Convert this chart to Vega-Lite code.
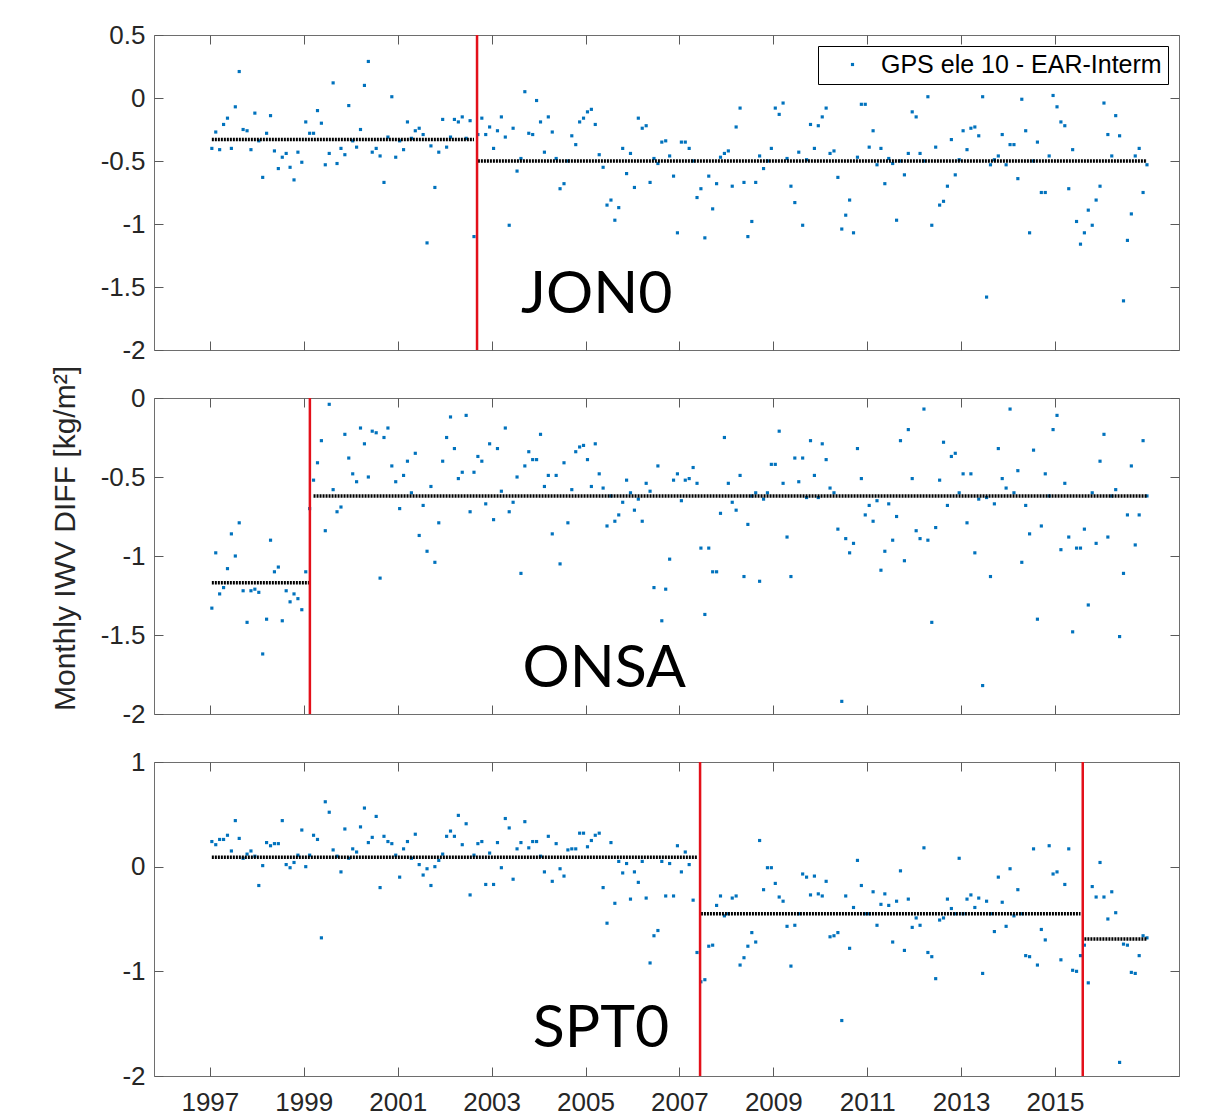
{
"$schema":"https://vega.github.io/schema/vega-lite/v6.json",
"background":"white",
"padding":{"left":49,"top":21,"right":10,"bottom":4},
"datasets":{
"jon0":[
{"t":1997.042,"v":-0.40},{"t":1997.125,"v":-0.27},{"t":1997.208,"v":-0.41},{"t":1997.292,"v":-0.21},{"t":1997.375,"v":-0.16},{"t":1997.458,"v":-0.40},{"t":1997.542,"v":-0.07},{"t":1997.625,"v":0.21},{"t":1997.708,"v":-0.25},{"t":1997.792,"v":-0.26},{"t":1997.875,"v":-0.41},{"t":1997.958,"v":-0.12},
{"t":1998.042,"v":-0.34},{"t":1998.125,"v":-0.63},{"t":1998.208,"v":-0.28},{"t":1998.292,"v":-0.14},{"t":1998.375,"v":-0.42},{"t":1998.458,"v":-0.56},{"t":1998.542,"v":-0.47},{"t":1998.625,"v":-0.44},{"t":1998.708,"v":-0.55},{"t":1998.792,"v":-0.65},{"t":1998.875,"v":-0.43},{"t":1998.958,"v":-0.51},
{"t":1999.042,"v":-0.19},{"t":1999.125,"v":-0.28},{"t":1999.208,"v":-0.28},{"t":1999.292,"v":-0.10},{"t":1999.375,"v":-0.20},{"t":1999.458,"v":-0.53},{"t":1999.542,"v":-0.44},{"t":1999.625,"v":0.12},{"t":1999.708,"v":-0.52},{"t":1999.792,"v":-0.40},{"t":1999.875,"v":-0.45},{"t":1999.958,"v":-0.06},
{"t":2000.042,"v":-0.34},{"t":2000.125,"v":-0.39},{"t":2000.208,"v":-0.25},{"t":2000.292,"v":0.10},{"t":2000.375,"v":0.29},{"t":2000.458,"v":-0.43},{"t":2000.542,"v":-0.40},{"t":2000.625,"v":-0.46},{"t":2000.708,"v":-0.67},{"t":2000.792,"v":-0.31},{"t":2000.875,"v":0.01},{"t":2000.958,"v":-0.47},
{"t":2001.042,"v":-0.34},{"t":2001.125,"v":-0.41},{"t":2001.208,"v":-0.19},{"t":2001.292,"v":-0.32},{"t":2001.375,"v":-0.26},{"t":2001.458,"v":-0.24},{"t":2001.542,"v":-0.29},{"t":2001.625,"v":-1.15},{"t":2001.708,"v":-0.38},{"t":2001.792,"v":-0.71},{"t":2001.875,"v":-0.43},{"t":2001.958,"v":-0.17},
{"t":2002.042,"v":-0.39},{"t":2002.125,"v":-0.31},{"t":2002.208,"v":-0.17},{"t":2002.292,"v":-0.19},{"t":2002.375,"v":-0.15},{"t":2002.458,"v":-0.32},{"t":2002.542,"v":-0.18},{"t":2002.625,"v":-1.10},{"t":2002.708,"v":-0.29},{"t":2002.792,"v":-0.16},{"t":2002.875,"v":-0.29},{"t":2002.958,"v":-0.23},
{"t":2003.042,"v":-0.40},{"t":2003.125,"v":-0.26},{"t":2003.208,"v":-0.15},{"t":2003.292,"v":-0.31},{"t":2003.375,"v":-1.01},{"t":2003.458,"v":-0.24},{"t":2003.542,"v":-0.58},{"t":2003.625,"v":-0.48},{"t":2003.708,"v":0.05},{"t":2003.792,"v":-0.28},{"t":2003.875,"v":-0.29},{"t":2003.958,"v":-0.02},
{"t":2004.042,"v":-0.19},{"t":2004.125,"v":-0.43},{"t":2004.208,"v":-0.15},{"t":2004.292,"v":-0.27},{"t":2004.375,"v":-0.48},{"t":2004.458,"v":-0.72},{"t":2004.542,"v":-0.68},{"t":2004.625,"v":-0.50},{"t":2004.708,"v":-0.30},{"t":2004.792,"v":-0.37},{"t":2004.875,"v":-0.19},{"t":2004.958,"v":-0.16},
{"t":2005.042,"v":-0.11},{"t":2005.125,"v":-0.09},{"t":2005.208,"v":-0.21},{"t":2005.292,"v":-0.45},{"t":2005.375,"v":-0.55},{"t":2005.458,"v":-0.85},{"t":2005.542,"v":-0.81},{"t":2005.625,"v":-0.97},{"t":2005.708,"v":-0.87},{"t":2005.792,"v":-0.40},{"t":2005.875,"v":-0.60},{"t":2005.958,"v":-0.44},
{"t":2006.042,"v":-0.71},{"t":2006.125,"v":-0.16},{"t":2006.208,"v":-0.24},{"t":2006.292,"v":-0.22},{"t":2006.375,"v":-0.67},{"t":2006.458,"v":-0.48},{"t":2006.542,"v":-0.52},{"t":2006.625,"v":-0.35},{"t":2006.708,"v":-0.34},{"t":2006.792,"v":-0.46},{"t":2006.875,"v":-0.62},{"t":2006.958,"v":-1.07},
{"t":2007.042,"v":-0.35},{"t":2007.125,"v":-0.35},{"t":2007.208,"v":-0.40},{"t":2007.292,"v":-0.50},{"t":2007.375,"v":-0.79},{"t":2007.458,"v":-0.72},{"t":2007.542,"v":-1.11},{"t":2007.625,"v":-0.62},{"t":2007.708,"v":-0.88},{"t":2007.792,"v":-0.68},{"t":2007.875,"v":-0.47},{"t":2007.958,"v":-0.44},
{"t":2008.042,"v":-0.42},{"t":2008.125,"v":-0.70},{"t":2008.208,"v":-0.23},{"t":2008.292,"v":-0.08},{"t":2008.375,"v":-0.67},{"t":2008.458,"v":-1.10},{"t":2008.542,"v":-0.98},{"t":2008.625,"v":-0.67},{"t":2008.708,"v":-0.46},{"t":2008.792,"v":-0.56},{"t":2008.875,"v":-0.50},{"t":2008.958,"v":-0.40},
{"t":2009.042,"v":-0.08},{"t":2009.125,"v":-0.13},{"t":2009.208,"v":-0.04},{"t":2009.292,"v":-0.48},{"t":2009.375,"v":-0.70},{"t":2009.458,"v":-0.83},{"t":2009.542,"v":-0.43},{"t":2009.625,"v":-1.01},{"t":2009.708,"v":-0.49},{"t":2009.792,"v":-0.21},{"t":2009.875,"v":-0.40},{"t":2009.958,"v":-0.22},
{"t":2010.042,"v":-0.15},{"t":2010.125,"v":-0.08},{"t":2010.208,"v":-0.44},{"t":2010.292,"v":-0.42},{"t":2010.375,"v":-0.63},{"t":2010.458,"v":-1.04},{"t":2010.542,"v":-0.93},{"t":2010.625,"v":-0.81},{"t":2010.708,"v":-1.07},{"t":2010.792,"v":-0.47},{"t":2010.875,"v":-0.05},{"t":2010.958,"v":-0.05},
{"t":2011.042,"v":-0.39},{"t":2011.125,"v":-0.26},{"t":2011.208,"v":-0.53},{"t":2011.292,"v":-0.40},{"t":2011.375,"v":-0.68},{"t":2011.458,"v":-0.48},{"t":2011.542,"v":-0.52},{"t":2011.625,"v":-0.97},{"t":2011.708,"v":-0.50},{"t":2011.792,"v":-0.61},{"t":2011.875,"v":-0.44},{"t":2011.958,"v":-0.11},
{"t":2012.042,"v":-0.15},{"t":2012.125,"v":-0.44},{"t":2012.208,"v":-0.50},{"t":2012.292,"v":0.01},{"t":2012.375,"v":-1.01},{"t":2012.458,"v":-0.39},{"t":2012.542,"v":-0.85},{"t":2012.625,"v":-0.82},{"t":2012.708,"v":-0.70},{"t":2012.792,"v":-0.33},{"t":2012.875,"v":-0.61},{"t":2012.958,"v":-0.49},
{"t":2013.042,"v":-0.26},{"t":2013.125,"v":-0.41},{"t":2013.208,"v":-0.24},{"t":2013.292,"v":-0.23},{"t":2013.375,"v":-0.30},{"t":2013.458,"v":0.01},{"t":2013.542,"v":-1.58},{"t":2013.625,"v":-0.53},{"t":2013.708,"v":-0.49},{"t":2013.792,"v":-0.46},{"t":2013.875,"v":-0.29},{"t":2013.958,"v":-0.53},
{"t":2014.042,"v":-0.37},{"t":2014.125,"v":-0.37},{"t":2014.208,"v":-0.64},{"t":2014.292,"v":-0.01},{"t":2014.375,"v":-0.26},{"t":2014.458,"v":-1.07},{"t":2014.542,"v":-0.50},{"t":2014.625,"v":-0.35},{"t":2014.708,"v":-0.75},{"t":2014.792,"v":-0.75},{"t":2014.875,"v":-0.46},{"t":2014.958,"v":0.02},
{"t":2015.042,"v":-0.07},{"t":2015.125,"v":-0.19},{"t":2015.208,"v":-0.22},{"t":2015.292,"v":-0.72},{"t":2015.375,"v":-0.41},{"t":2015.458,"v":-0.98},{"t":2015.542,"v":-1.16},{"t":2015.625,"v":-1.07},{"t":2015.708,"v":-0.89},{"t":2015.792,"v":-1.01},{"t":2015.875,"v":-0.81},{"t":2015.958,"v":-0.70},
{"t":2016.042,"v":-0.04},{"t":2016.125,"v":-0.29},{"t":2016.208,"v":-0.46},{"t":2016.292,"v":-0.14},{"t":2016.375,"v":-0.30},{"t":2016.458,"v":-1.61},{"t":2016.542,"v":-1.13},{"t":2016.625,"v":-0.92},{"t":2016.708,"v":-0.46},{"t":2016.792,"v":-0.40},{"t":2016.875,"v":-0.75},{"t":2016.958,"v":-0.53}
],
"onsa":[
{"t":1997.042,"v":-1.33},{"t":1997.125,"v":-0.98},{"t":1997.208,"v":-1.24},{"t":1997.292,"v":-1.20},{"t":1997.375,"v":-1.08},{"t":1997.458,"v":-0.86},{"t":1997.542,"v":-1.00},{"t":1997.625,"v":-0.79},{"t":1997.708,"v":-1.22},{"t":1997.792,"v":-1.42},{"t":1997.875,"v":-1.22},{"t":1997.958,"v":-1.21},
{"t":1998.042,"v":-1.23},{"t":1998.125,"v":-1.62},{"t":1998.208,"v":-1.40},{"t":1998.292,"v":-0.90},{"t":1998.375,"v":-1.10},{"t":1998.458,"v":-1.07},{"t":1998.542,"v":-1.41},{"t":1998.625,"v":-1.22},{"t":1998.708,"v":-1.29},{"t":1998.792,"v":-1.24},{"t":1998.875,"v":-1.27},{"t":1998.958,"v":-1.34},
{"t":1999.042,"v":-1.10},{"t":1999.125,"v":-0.70},{"t":1999.208,"v":-0.52},{"t":1999.292,"v":-0.41},{"t":1999.375,"v":-0.27},{"t":1999.458,"v":-0.84},{"t":1999.542,"v":-0.04},{"t":1999.625,"v":-0.58},{"t":1999.708,"v":-0.72},{"t":1999.792,"v":-0.69},{"t":1999.875,"v":-0.23},{"t":1999.958,"v":-0.38},
{"t":2000.042,"v":-0.48},{"t":2000.125,"v":-0.53},{"t":2000.208,"v":-0.19},{"t":2000.292,"v":-0.29},{"t":2000.375,"v":-0.50},{"t":2000.458,"v":-0.21},{"t":2000.542,"v":-0.22},{"t":2000.625,"v":-1.14},{"t":2000.708,"v":-0.25},{"t":2000.792,"v":-0.19},{"t":2000.875,"v":-0.43},{"t":2000.958,"v":-0.53},
{"t":2001.042,"v":-0.70},{"t":2001.125,"v":-0.49},{"t":2001.208,"v":-0.40},{"t":2001.292,"v":-0.60},{"t":2001.375,"v":-0.35},{"t":2001.458,"v":-0.87},{"t":2001.542,"v":-0.68},{"t":2001.625,"v":-0.97},{"t":2001.708,"v":-0.56},{"t":2001.792,"v":-1.04},{"t":2001.875,"v":-0.79},{"t":2001.958,"v":-0.40},
{"t":2002.042,"v":-0.25},{"t":2002.125,"v":-0.12},{"t":2002.208,"v":-0.32},{"t":2002.292,"v":-0.51},{"t":2002.375,"v":-0.47},{"t":2002.458,"v":-0.11},{"t":2002.542,"v":-0.72},{"t":2002.625,"v":-0.47},{"t":2002.708,"v":-0.37},{"t":2002.792,"v":-0.40},{"t":2002.875,"v":-0.67},{"t":2002.958,"v":-0.29},
{"t":2003.042,"v":-0.77},{"t":2003.125,"v":-0.32},{"t":2003.208,"v":-0.59},{"t":2003.292,"v":-0.19},{"t":2003.375,"v":-0.72},{"t":2003.458,"v":-0.66},{"t":2003.542,"v":-0.50},{"t":2003.625,"v":-1.11},{"t":2003.708,"v":-0.43},{"t":2003.792,"v":-0.34},{"t":2003.875,"v":-0.39},{"t":2003.958,"v":-0.39},
{"t":2004.042,"v":-0.23},{"t":2004.125,"v":-0.56},{"t":2004.208,"v":-0.49},{"t":2004.292,"v":-0.86},{"t":2004.375,"v":-0.49},{"t":2004.458,"v":-1.05},{"t":2004.542,"v":-0.41},{"t":2004.625,"v":-0.79},{"t":2004.708,"v":-0.58},{"t":2004.792,"v":-0.34},{"t":2004.875,"v":-0.31},{"t":2004.958,"v":-0.30},
{"t":2005.042,"v":-0.39},{"t":2005.125,"v":-0.56},{"t":2005.208,"v":-0.29},{"t":2005.292,"v":-0.48},{"t":2005.375,"v":-0.57},{"t":2005.458,"v":-0.81},{"t":2005.542,"v":-0.62},{"t":2005.625,"v":-0.78},{"t":2005.708,"v":-0.74},{"t":2005.792,"v":-0.66},{"t":2005.875,"v":-0.52},{"t":2005.958,"v":-0.60},
{"t":2006.042,"v":-0.71},{"t":2006.125,"v":-0.64},{"t":2006.208,"v":-0.78},{"t":2006.292,"v":-0.54},{"t":2006.375,"v":-0.59},{"t":2006.458,"v":-1.20},{"t":2006.542,"v":-0.43},{"t":2006.625,"v":-1.41},{"t":2006.708,"v":-1.21},{"t":2006.792,"v":-1.02},{"t":2006.875,"v":-0.52},{"t":2006.958,"v":-0.48},
{"t":2007.042,"v":-0.65},{"t":2007.125,"v":-0.52},{"t":2007.208,"v":-0.51},{"t":2007.292,"v":-0.44},{"t":2007.375,"v":-0.54},{"t":2007.458,"v":-0.95},{"t":2007.542,"v":-1.37},{"t":2007.625,"v":-0.95},{"t":2007.708,"v":-1.10},{"t":2007.792,"v":-1.10},{"t":2007.875,"v":-0.73},{"t":2007.958,"v":-0.25},
{"t":2008.042,"v":-0.54},{"t":2008.125,"v":-0.66},{"t":2008.208,"v":-0.71},{"t":2008.292,"v":-0.49},{"t":2008.375,"v":-1.13},{"t":2008.458,"v":-0.80},{"t":2008.542,"v":-0.62},{"t":2008.625,"v":-0.60},{"t":2008.708,"v":-1.16},{"t":2008.792,"v":-0.64},{"t":2008.875,"v":-0.60},{"t":2008.958,"v":-0.42},
{"t":2009.042,"v":-0.42},{"t":2009.125,"v":-0.21},{"t":2009.208,"v":-0.54},{"t":2009.292,"v":-0.88},{"t":2009.375,"v":-1.13},{"t":2009.458,"v":-0.38},{"t":2009.542,"v":-0.53},{"t":2009.625,"v":-0.38},{"t":2009.708,"v":-0.63},{"t":2009.792,"v":-0.27},{"t":2009.875,"v":-0.49},{"t":2009.958,"v":-0.63},
{"t":2010.042,"v":-0.29},{"t":2010.125,"v":-0.39},{"t":2010.208,"v":-0.57},{"t":2010.292,"v":-0.60},{"t":2010.375,"v":-0.83},{"t":2010.458,"v":-1.92},{"t":2010.542,"v":-0.89},{"t":2010.625,"v":-0.98},{"t":2010.708,"v":-0.92},{"t":2010.792,"v":-0.32},{"t":2010.875,"v":-0.51},{"t":2010.958,"v":-0.74},
{"t":2011.042,"v":-0.68},{"t":2011.125,"v":-0.78},{"t":2011.208,"v":-0.65},{"t":2011.292,"v":-1.09},{"t":2011.375,"v":-0.97},{"t":2011.458,"v":-0.67},{"t":2011.542,"v":-0.90},{"t":2011.625,"v":-0.75},{"t":2011.708,"v":-0.27},{"t":2011.792,"v":-1.03},{"t":2011.875,"v":-0.20},{"t":2011.958,"v":-0.51},
{"t":2012.042,"v":-0.84},{"t":2012.125,"v":-0.89},{"t":2012.208,"v":-0.07},{"t":2012.292,"v":-0.90},{"t":2012.375,"v":-1.42},{"t":2012.458,"v":-0.82},{"t":2012.542,"v":-0.52},{"t":2012.625,"v":-0.28},{"t":2012.708,"v":-0.68},{"t":2012.792,"v":-0.37},{"t":2012.875,"v":-0.35},{"t":2012.958,"v":-0.60},
{"t":2013.042,"v":-0.48},{"t":2013.125,"v":-0.79},{"t":2013.208,"v":-0.48},{"t":2013.292,"v":-0.98},{"t":2013.375,"v":-0.64},{"t":2013.458,"v":-1.82},{"t":2013.542,"v":-0.63},{"t":2013.625,"v":-1.13},{"t":2013.708,"v":-0.67},{"t":2013.792,"v":-0.32},{"t":2013.875,"v":-0.51},{"t":2013.958,"v":-0.57},
{"t":2014.042,"v":-0.07},{"t":2014.125,"v":-0.60},{"t":2014.208,"v":-0.46},{"t":2014.292,"v":-1.04},{"t":2014.375,"v":-0.68},{"t":2014.458,"v":-0.86},{"t":2014.542,"v":-0.33},{"t":2014.625,"v":-1.40},{"t":2014.708,"v":-0.81},{"t":2014.792,"v":-0.48},{"t":2014.875,"v":-0.62},{"t":2014.958,"v":-0.20},
{"t":2015.042,"v":-0.11},{"t":2015.125,"v":-0.96},{"t":2015.208,"v":-0.54},{"t":2015.292,"v":-0.88},{"t":2015.375,"v":-1.48},{"t":2015.458,"v":-0.95},{"t":2015.542,"v":-0.95},{"t":2015.625,"v":-0.83},{"t":2015.708,"v":-1.31},{"t":2015.792,"v":-0.60},{"t":2015.875,"v":-0.92},{"t":2015.958,"v":-0.40},
{"t":2016.042,"v":-0.23},{"t":2016.125,"v":-0.88},{"t":2016.208,"v":-0.62},{"t":2016.292,"v":-0.58},{"t":2016.375,"v":-1.51},{"t":2016.458,"v":-1.11},{"t":2016.542,"v":-0.74},{"t":2016.625,"v":-0.43},{"t":2016.708,"v":-0.93},{"t":2016.792,"v":-0.74},{"t":2016.875,"v":-0.27},{"t":2016.958,"v":-0.62}
],
"spt0":[
{"t":1997.042,"v":0.24},{"t":1997.125,"v":0.21},{"t":1997.208,"v":0.26},{"t":1997.292,"v":0.26},{"t":1997.375,"v":0.30},{"t":1997.458,"v":0.15},{"t":1997.542,"v":0.44},{"t":1997.625,"v":0.27},{"t":1997.708,"v":0.08},{"t":1997.792,"v":0.12},{"t":1997.875,"v":0.15},{"t":1997.958,"v":0.10},
{"t":1998.042,"v":-0.18},{"t":1998.125,"v":0.01},{"t":1998.208,"v":0.23},{"t":1998.292,"v":0.20},{"t":1998.375,"v":0.22},{"t":1998.458,"v":0.22},{"t":1998.542,"v":0.44},{"t":1998.625,"v":0.02},{"t":1998.708,"v":-0.01},{"t":1998.792,"v":0.04},{"t":1998.875,"v":0.11},{"t":1998.958,"v":0.35},
{"t":1999.042,"v":0.00},{"t":1999.125,"v":0.11},{"t":1999.208,"v":0.30},{"t":1999.292,"v":0.26},{"t":1999.375,"v":-0.68},{"t":1999.458,"v":0.62},{"t":1999.542,"v":0.52},{"t":1999.625,"v":0.16},{"t":1999.708,"v":0.10},{"t":1999.792,"v":-0.05},{"t":1999.875,"v":0.36},{"t":1999.958,"v":0.08},
{"t":2000.042,"v":0.17},{"t":2000.125,"v":0.14},{"t":2000.208,"v":0.38},{"t":2000.292,"v":0.56},{"t":2000.375,"v":0.23},{"t":2000.458,"v":0.28},{"t":2000.542,"v":0.48},{"t":2000.625,"v":-0.20},{"t":2000.708,"v":0.29},{"t":2000.792,"v":0.24},{"t":2000.875,"v":0.22},{"t":2000.958,"v":0.11},
{"t":2001.042,"v":-0.10},{"t":2001.125,"v":0.17},{"t":2001.208,"v":0.24},{"t":2001.292,"v":0.08},{"t":2001.375,"v":0.31},{"t":2001.458,"v":0.02},{"t":2001.542,"v":-0.08},{"t":2001.625,"v":-0.02},{"t":2001.708,"v":-0.18},{"t":2001.792,"v":0.00},{"t":2001.875,"v":0.06},{"t":2001.958,"v":0.12},
{"t":2002.042,"v":0.29},{"t":2002.125,"v":0.34},{"t":2002.208,"v":0.29},{"t":2002.292,"v":0.49},{"t":2002.375,"v":0.21},{"t":2002.458,"v":0.41},{"t":2002.542,"v":-0.27},{"t":2002.625,"v":0.11},{"t":2002.708,"v":0.22},{"t":2002.792,"v":0.24},{"t":2002.875,"v":-0.17},{"t":2002.958,"v":0.13},
{"t":2003.042,"v":-0.17},{"t":2003.125,"v":0.23},{"t":2003.208,"v":-0.01},{"t":2003.292,"v":0.46},{"t":2003.375,"v":0.37},{"t":2003.458,"v":-0.12},{"t":2003.542,"v":0.17},{"t":2003.625,"v":0.23},{"t":2003.708,"v":0.43},{"t":2003.792,"v":0.18},{"t":2003.875,"v":0.24},{"t":2003.958,"v":0.24},
{"t":2004.042,"v":0.10},{"t":2004.125,"v":-0.05},{"t":2004.208,"v":0.29},{"t":2004.292,"v":-0.14},{"t":2004.375,"v":0.22},{"t":2004.458,"v":-0.02},{"t":2004.542,"v":-0.09},{"t":2004.625,"v":0.16},{"t":2004.708,"v":0.17},{"t":2004.792,"v":0.17},{"t":2004.875,"v":0.32},{"t":2004.958,"v":0.32},
{"t":2005.042,"v":0.19},{"t":2005.125,"v":0.25},{"t":2005.208,"v":0.30},{"t":2005.292,"v":0.32},{"t":2005.375,"v":-0.20},{"t":2005.458,"v":-0.54},{"t":2005.542,"v":0.23},{"t":2005.625,"v":-0.35},{"t":2005.708,"v":0.05},{"t":2005.792,"v":-0.06},{"t":2005.875,"v":0.03},{"t":2005.958,"v":-0.31},
{"t":2006.042,"v":-0.05},{"t":2006.125,"v":-0.15},{"t":2006.208,"v":0.05},{"t":2006.292,"v":-0.30},{"t":2006.375,"v":-0.92},{"t":2006.458,"v":-0.66},{"t":2006.542,"v":-0.61},{"t":2006.625,"v":0.05},{"t":2006.708,"v":-0.28},{"t":2006.792,"v":0.03},{"t":2006.875,"v":-0.28},{"t":2006.958,"v":0.20},
{"t":2007.042,"v":-0.05},{"t":2007.125,"v":0.14},{"t":2007.208,"v":0.02},{"t":2007.292,"v":-0.32},{"t":2007.375,"v":-0.82},{"t":2007.458,"v":-1.10},{"t":2007.542,"v":-1.08},{"t":2007.625,"v":-0.76},{"t":2007.708,"v":-0.75},{"t":2007.792,"v":-0.37},{"t":2007.875,"v":-0.28},{"t":2007.958,"v":-0.47},
{"t":2008.042,"v":-0.45},{"t":2008.125,"v":-0.30},{"t":2008.208,"v":-0.28},{"t":2008.292,"v":-0.94},{"t":2008.375,"v":-0.87},{"t":2008.458,"v":-0.76},{"t":2008.542,"v":-0.63},{"t":2008.625,"v":-0.72},{"t":2008.708,"v":0.25},{"t":2008.792,"v":-0.22},{"t":2008.875,"v":-0.01},{"t":2008.958,"v":-0.01},
{"t":2009.042,"v":-0.16},{"t":2009.125,"v":-0.29},{"t":2009.208,"v":-0.33},{"t":2009.292,"v":-0.57},{"t":2009.375,"v":-0.95},{"t":2009.458,"v":-0.56},{"t":2009.542,"v":-0.45},{"t":2009.625,"v":-0.07},{"t":2009.708,"v":-0.10},{"t":2009.792,"v":-0.27},{"t":2009.875,"v":-0.09},{"t":2009.958,"v":-0.26},
{"t":2010.042,"v":-0.28},{"t":2010.125,"v":-0.14},{"t":2010.208,"v":-0.67},{"t":2010.292,"v":-0.66},{"t":2010.375,"v":-0.63},{"t":2010.458,"v":-1.47},{"t":2010.542,"v":-0.28},{"t":2010.625,"v":-0.78},{"t":2010.708,"v":-0.39},{"t":2010.792,"v":0.06},{"t":2010.875,"v":-0.18},{"t":2010.958,"v":-0.45},
{"t":2011.042,"v":-0.45},{"t":2011.125,"v":-0.24},{"t":2011.208,"v":-0.56},{"t":2011.292,"v":-0.36},{"t":2011.375,"v":-0.26},{"t":2011.458,"v":-0.37},{"t":2011.542,"v":-0.72},{"t":2011.625,"v":-0.33},{"t":2011.708,"v":-0.04},{"t":2011.792,"v":-0.80},{"t":2011.875,"v":-0.31},{"t":2011.958,"v":-0.58},
{"t":2012.042,"v":-0.49},{"t":2012.125,"v":-0.56},{"t":2012.208,"v":0.18},{"t":2012.292,"v":-0.82},{"t":2012.375,"v":-0.86},{"t":2012.458,"v":-1.07},{"t":2012.542,"v":-0.51},{"t":2012.625,"v":-0.49},{"t":2012.708,"v":-0.31},{"t":2012.792,"v":-0.40},{"t":2012.875,"v":-0.45},{"t":2012.958,"v":0.08},
{"t":2013.042,"v":-0.45},{"t":2013.125,"v":-0.31},{"t":2013.208,"v":-0.27},{"t":2013.292,"v":-0.39},{"t":2013.375,"v":-0.30},{"t":2013.458,"v":-1.02},{"t":2013.542,"v":-0.33},{"t":2013.625,"v":-0.45},{"t":2013.708,"v":-0.62},{"t":2013.792,"v":-0.10},{"t":2013.875,"v":-0.34},{"t":2013.958,"v":-0.57},
{"t":2014.042,"v":-0.02},{"t":2014.125,"v":-0.47},{"t":2014.208,"v":-0.22},{"t":2014.292,"v":-0.45},{"t":2014.375,"v":-0.85},{"t":2014.458,"v":-0.86},{"t":2014.542,"v":0.17},{"t":2014.625,"v":-0.94},{"t":2014.708,"v":-0.60},{"t":2014.792,"v":-0.70},{"t":2014.875,"v":0.20},{"t":2014.958,"v":-0.07},
{"t":2015.042,"v":-0.05},{"t":2015.125,"v":-0.89},{"t":2015.208,"v":-0.17},{"t":2015.292,"v":0.17},{"t":2015.375,"v":-0.99},{"t":2015.458,"v":-1.00},{"t":2015.542,"v":-0.85},{"t":2015.625,"v":-0.75},{"t":2015.708,"v":-1.11},{"t":2015.792,"v":-0.19},{"t":2015.875,"v":-0.29},{"t":2015.958,"v":0.04},
{"t":2016.042,"v":-0.29},{"t":2016.125,"v":-0.50},{"t":2016.208,"v":-0.24},{"t":2016.292,"v":-0.44},{"t":2016.375,"v":-1.87},{"t":2016.458,"v":-0.74},{"t":2016.542,"v":-0.75},{"t":2016.625,"v":-1.01},{"t":2016.708,"v":-1.02},{"t":2016.792,"v":-0.85},{"t":2016.875,"v":-0.66},{"t":2016.958,"v":-0.68}
]
},
"config":{
"font":"Liberation Sans",
"view":{"stroke":"#6e6e6e","strokeWidth":1},
"axis":{"labelFont":"Liberation Sans","labelFontSize":26,"labelColor":"#262626","tickColor":"#5a5a5a","tickSize":-9,"tickWidth":1,"labelPadding":18,"domain":false,"grid":false,"titleFont":"Liberation Sans","titleFontSize":30,"titleFontWeight":"normal","titleColor":"#262626"}
},
"spacing":48,
"bounds":"flush",
"resolve":{"scale":{"x":"independent","y":"independent","color":"independent"},"legend":{"color":"independent"}},
"vconcat":[
{
"width":1025,"height":315,
"layer":[
{"data":{"name":"jon0"},
 "mark":{"type":"square","size":10,"opacity":1},
 "encoding":{
  "x":{"field":"t","type":"quantitative","scale":{"domain":[1995.81,2017.64],"nice":false,"zero":false},"axis":{"orient":"bottom","values":[1997,1999,2001,2003,2005,2007,2009,2011,2013,2015],"labels":false,"title":null}},
  "y":{"field":"v","type":"quantitative","scale":{"domain":[-2,0.5],"nice":false,"zero":false},"axis":{"orient":"left","values":[0.5,0,-0.5,-1,-1.5,-2],"labelExpr":"'' + datum.value","title":null}},
  "color":{"datum":"GPS ele 10 - EAR-Interm","type":"nominal","scale":{"range":["#0072BD"]},
   "legend":{"title":null,"orient":"top-right","offset":11,"padding":6,"strokeColor":"#000000","fillColor":"#ffffff","labelFont":"Liberation Sans","labelFontSize":25,"labelColor":"#000000","symbolType":"square","symbolSize":10,"symbolOffset":16,"labelOffset":16,"labelLimit":600}}
 }},
{"data":{"values":[{"x1":1997.042,"x2":2002.625,"m":-0.33},{"x1":2002.708,"x2":2016.958,"m":-0.50}]},
 "mark":{"type":"rule","color":"#000000","strokeWidth":3.5,"strokeDash":[2,1]},
 "encoding":{
  "x":{"field":"x1","type":"quantitative","scale":{"domain":[1995.81,2017.64],"nice":false,"zero":false},"axis":{"orient":"top","values":[1997,1999,2001,2003,2005,2007,2009,2011,2013,2015],"labels":false,"title":null}},
  "x2":{"field":"x2"},
  "y":{"field":"m","type":"quantitative","scale":{"domain":[-2,0.5],"nice":false,"zero":false},"axis":{"orient":"right","values":[0.5,0,-0.5,-1,-1.5,-2],"labels":false,"title":null}}
 }},
{"data":{"values":[{"t":2002.69}]},
 "mark":{"type":"rule","color":"#E3101A","strokeWidth":2.5},
 "encoding":{"x":{"field":"t","type":"quantitative","scale":{"domain":[1995.81,2017.64],"nice":false,"zero":false},"axis":null}}},
{"data":{"values":[{"name":"JON0","t":2005.24,"v":-1.71}]},
 "mark":{"type":"text","font":"Lato","fontSize":59,"align":"center","baseline":"alphabetic","color":"#000000"},
 "encoding":{
  "x":{"field":"t","type":"quantitative","scale":{"domain":[1995.81,2017.64],"nice":false,"zero":false},"axis":null},
  "y":{"field":"v","type":"quantitative","scale":{"domain":[-2,0.5],"nice":false,"zero":false},"axis":null},
  "text":{"field":"name"}
 }}
],
"resolve":{"axis":{"x":"independent","y":"independent"}}
},
{
"width":1025,"height":316,
"layer":[
{"data":{"name":"onsa"},
 "mark":{"type":"square","size":10,"opacity":1,"color":"#0072BD"},
 "encoding":{
  "x":{"field":"t","type":"quantitative","scale":{"domain":[1995.81,2017.64],"nice":false,"zero":false},"axis":{"orient":"bottom","values":[1997,1999,2001,2003,2005,2007,2009,2011,2013,2015],"labels":false,"title":null}},
  "y":{"field":"v","type":"quantitative","scale":{"domain":[-2,0],"nice":false,"zero":false},"axis":{"orient":"left","values":[0,-0.5,-1,-1.5,-2],"labelExpr":"'' + datum.value","title":"Monthly IWV DIFF [kg/m²]","titlePadding":20,"titleY":140}}
 }},
{"data":{"values":[{"x1":1997.042,"x2":1999.125,"m":-1.17},{"x1":1999.208,"x2":2016.958,"m":-0.62}]},
 "mark":{"type":"rule","color":"#000000","strokeWidth":3.5,"strokeDash":[2,1]},
 "encoding":{
  "x":{"field":"x1","type":"quantitative","scale":{"domain":[1995.81,2017.64],"nice":false,"zero":false},"axis":{"orient":"top","values":[1997,1999,2001,2003,2005,2007,2009,2011,2013,2015],"labels":false,"title":null}},
  "x2":{"field":"x2"},
  "y":{"field":"m","type":"quantitative","scale":{"domain":[-2,0],"nice":false,"zero":false},"axis":{"orient":"right","values":[0,-0.5,-1,-1.5,-2],"labels":false,"title":null}}
 }},
{"data":{"values":[{"t":1999.13}]},
 "mark":{"type":"rule","color":"#E3101A","strokeWidth":2.5},
 "encoding":{"x":{"field":"t","type":"quantitative","scale":{"domain":[1995.81,2017.64],"nice":false,"zero":false},"axis":null}}},
{"data":{"values":[{"name":"ONSA","t":2005.4,"v":-1.83}]},
 "mark":{"type":"text","font":"Lato","fontSize":59,"align":"center","baseline":"alphabetic","color":"#000000"},
 "encoding":{
  "x":{"field":"t","type":"quantitative","scale":{"domain":[1995.81,2017.64],"nice":false,"zero":false},"axis":null},
  "y":{"field":"v","type":"quantitative","scale":{"domain":[-2,0],"nice":false,"zero":false},"axis":null},
  "text":{"field":"name"}
 }}
],
"resolve":{"axis":{"x":"independent","y":"independent"}}
},
{
"width":1025,"height":314,
"layer":[
{"data":{"name":"spt0"},
 "mark":{"type":"square","size":10,"opacity":1,"color":"#0072BD"},
 "encoding":{
  "x":{"field":"t","type":"quantitative","scale":{"domain":[1995.81,2017.64],"nice":false,"zero":false},"axis":{"orient":"bottom","values":[1997,1999,2001,2003,2005,2007,2009,2011,2013,2015],"format":"d","title":null,"labelPadding":22}},
  "y":{"field":"v","type":"quantitative","scale":{"domain":[-2,1],"nice":false,"zero":false},"axis":{"orient":"left","values":[1,0,-1,-2],"labelExpr":"'' + datum.value","title":null}}
 }},
{"data":{"values":[{"x1":1997.042,"x2":2007.375,"m":0.09},{"x1":2007.458,"x2":2015.542,"m":-0.45},{"x1":2015.625,"x2":2016.958,"m":-0.69}]},
 "mark":{"type":"rule","color":"#000000","strokeWidth":3.5,"strokeDash":[2,1]},
 "encoding":{
  "x":{"field":"x1","type":"quantitative","scale":{"domain":[1995.81,2017.64],"nice":false,"zero":false},"axis":{"orient":"top","values":[1997,1999,2001,2003,2005,2007,2009,2011,2013,2015],"labels":false,"title":null}},
  "x2":{"field":"x2"},
  "y":{"field":"m","type":"quantitative","scale":{"domain":[-2,1],"nice":false,"zero":false},"axis":{"orient":"right","values":[1,0,-1,-2],"labels":false,"title":null}}
 }},
{"data":{"values":[{"t":2007.44},{"t":2015.59}]},
 "mark":{"type":"rule","color":"#E3101A","strokeWidth":2.5},
 "encoding":{"x":{"field":"t","type":"quantitative","scale":{"domain":[1995.81,2017.64],"nice":false,"zero":false},"axis":null}}},
{"data":{"values":[{"name":"SPT0","t":2005.33,"v":-1.72}]},
 "mark":{"type":"text","font":"Lato","fontSize":59,"align":"center","baseline":"alphabetic","color":"#000000"},
 "encoding":{
  "x":{"field":"t","type":"quantitative","scale":{"domain":[1995.81,2017.64],"nice":false,"zero":false},"axis":null},
  "y":{"field":"v","type":"quantitative","scale":{"domain":[-2,1],"nice":false,"zero":false},"axis":null},
  "text":{"field":"name"}
 }}
],
"resolve":{"axis":{"x":"independent","y":"independent"}}
}
]
}
